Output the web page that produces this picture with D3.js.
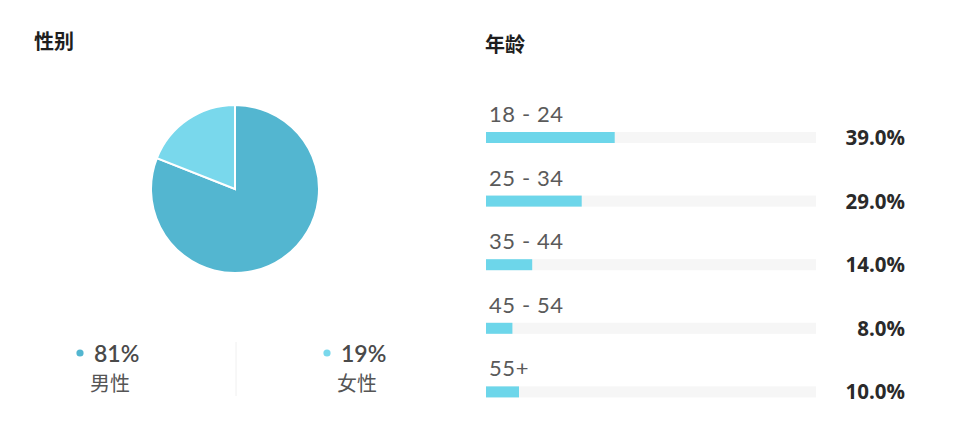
<!DOCTYPE html>
<html>
<head>
<meta charset="utf-8">
<script src="https://cdn.jsdelivr.net/npm/d3@7"></script>
<style>
  html, body { margin: 0; padding: 0; background: #fff; }
  svg { display: block; }
</style>
</head>
<body>
<svg id="chart"></svg>
<script>
// gender split (pie)
const genderLabels = ['男性', '女性'];
const genderValues = [81, 19];
const genderColors = ['#53b6d0', '#79d8ec'];

// age distribution (bars)
const ageLabels = ['18 - 24', '25 - 34', '35 - 44', '45 - 54', '55+'];
const ageValues = [39.0, 29.0, 14.0, 8.0, 10.0];

const width = 957, height = 424;
const cjk = '"Noto Sans CJK SC", "Noto Sans", sans-serif';
const latin = 'Lato, "Open Sans", "Noto Sans CJK SC", sans-serif';

const svg = d3.select('#chart')
    .attr('width', width)
    .attr('height', height);

// ---- left panel: gender ----
svg.append('text')
    .attr('x', 34).attr('y', 49)
    .attr('font-family', cjk).attr('font-size', 20).attr('font-weight', 700)
    .attr('fill', '#1e1e1e')
    .text('性别');

const pie = d3.pie().sort(null).value(d => d);
const arc = d3.arc().innerRadius(0).outerRadius(84);

const pieG = svg.append('g').attr('transform', 'translate(235,189)');
pieG.selectAll('path')
  .data(pie(genderValues))
  .join('path')
    .attr('d', arc)
    .attr('fill', (d, i) => genderColors[i])
    .attr('stroke', '#fff')
    .attr('stroke-width', 2);

// legend under the pie
const legendX = d3.scalePoint().domain(genderLabels).range([80, 327]);
const legend = svg.append('g').selectAll('g')
  .data(genderLabels)
  .join('g')
    .attr('transform', d => `translate(${legendX(d)},0)`);

legend.append('circle')
    .attr('cx', 0).attr('cy', 353).attr('r', 3.6)
    .attr('fill', (d, i) => genderColors[i]);
legend.append('text')
    .attr('x', 14).attr('y', 362)
    .attr('font-family', latin).attr('font-size', 23).attr('font-weight', 600)
    .attr('fill', '#4a4a4a')
    .text((d, i) => genderValues[i] + '%');
legend.append('text')
    .attr('x', 10).attr('y', 391)
    .attr('font-family', cjk).attr('font-size', 20)
    .attr('fill', '#555')
    .text(d => d);

svg.append('line')
    .attr('x1', 236).attr('x2', 236).attr('y1', 342).attr('y2', 396)
    .attr('stroke', '#f0f0f0').attr('stroke-width', 1);

// ---- right panel: age ----
svg.append('text')
    .attr('x', 485).attr('y', 52)
    .attr('font-family', cjk).attr('font-size', 20).attr('font-weight', 700)
    .attr('fill', '#1e1e1e')
    .text('年龄');

const x = d3.scaleLinear().domain([0, 100]).range([486, 816]);
const y = d3.scaleBand().domain(ageLabels).range([96, 414]).paddingInner(0);

const rows = svg.append('g').selectAll('g')
  .data(ageLabels)
  .join('g')
    .attr('transform', d => `translate(0,${y(d)})`);

rows.append('text')
    .attr('x', 489).attr('y', 26)
    .attr('font-family', latin).attr('font-size', 22)
    .attr('letter-spacing', 0.6)
    .attr('fill', '#5a5a5a')
    .text(d => d);

rows.append('rect')
    .attr('x', x(0)).attr('y', 36)
    .attr('width', x(100) - x(0)).attr('height', 11)
    .attr('fill', '#f6f6f6');

rows.append('rect')
    .attr('x', x(0)).attr('y', 36)
    .attr('width', (d, i) => x(ageValues[i]) - x(0)).attr('height', 11)
    .attr('fill', '#6dd6ea');

rows.append('text')
    .attr('x', 905).attr('y', 49)
    .attr('text-anchor', 'end')
    .attr('font-family', '"Open Sans", Lato, sans-serif').attr('font-size', 20.5).attr('font-weight', 700)
    .attr('fill', '#2a2a2a')
    .text((d, i) => ageValues[i].toFixed(1) + '%');
</script>
</body>
</html>
